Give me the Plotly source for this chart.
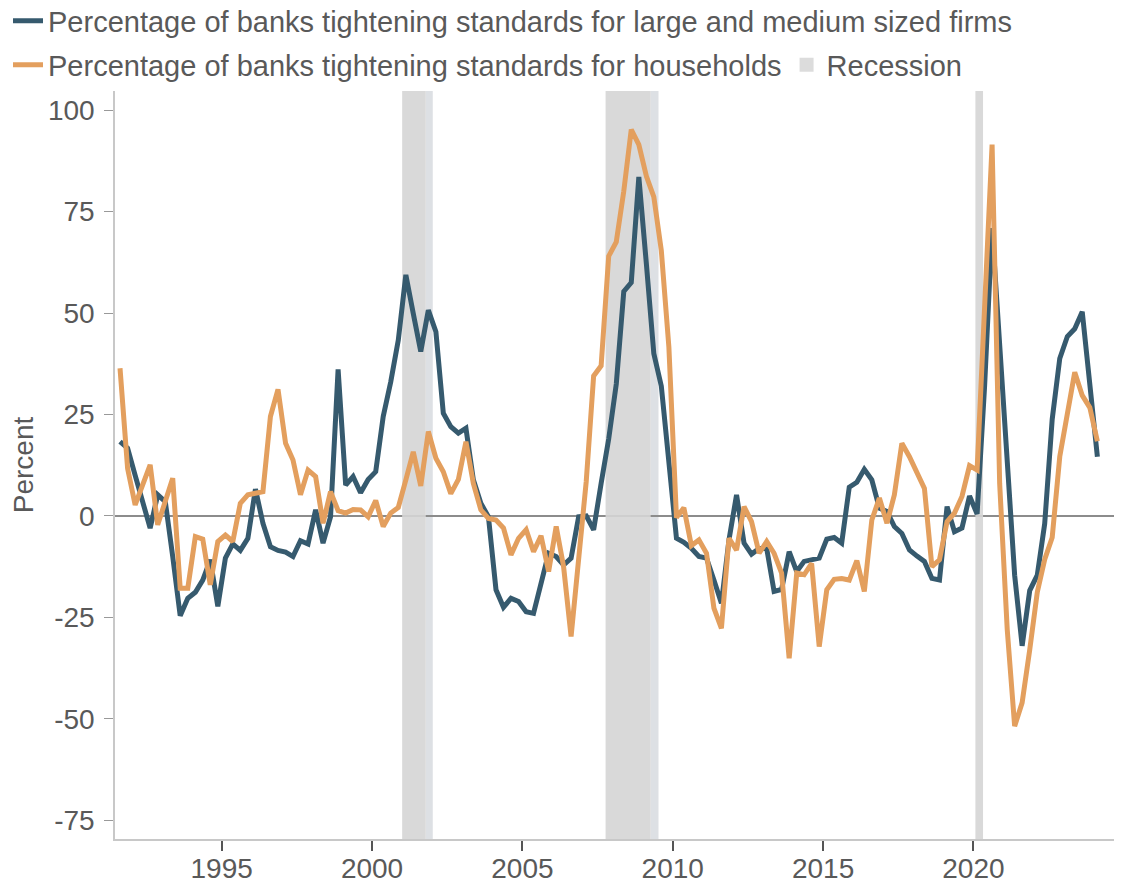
import pandas as pd
import plotly.graph_objects as go

# ── Data (quarterly, 1991Q3 – 2024Q1) ──────────────────────────────────────
START_Q = "1991Q3"
END_Q = "2024Q1"

firms = [
    18.3, 16.7, 10.0, 3.5, -3.0, 5.2, 3.5, -10.0, -24.6, -20.3,
    -18.8, -15.8, -10.8, -22.3, -10.4, -6.9, -8.5, -5.5, 6.6, -1.8,
    -7.6, -8.5, -8.9, -10.0, -6.1, -6.9, 1.5, -6.7, -0.2, 36.1,
    7.6, 9.7, 5.7, 9.0, 10.9, 24.5, 33.0, 43.3, 59.4, 49.9,
    40.5, 50.7, 45.4, 25.3, 22.0, 20.4, 21.6, 8.9, 3.1, -0.2,
    -18.2, -22.5, -20.3, -21.1, -23.6, -24.0, -16.6, -9.2, -10.0, -12.1,
    -10.4, -0.2, 0.0, -3.4, 8.0, 19.0, 32.5, 55.3, 57.5, 83.5,
    62.0, 40.0, 32.0, 14.0, -5.5, -6.5, -8.0, -10.0, -10.4, -15.8,
    -21.5, -5.9, 5.2, -6.7, -9.4, -8.0, -8.0, -18.6, -18.1, -8.8,
    -13.7, -11.2, -10.8, -10.4, -5.7, -5.3, -6.7, 7.1, 8.3, 11.5,
    8.9, 1.9, 1.1, -2.6, -4.3, -8.4, -9.9, -11.2, -15.4, -15.8,
    2.3, -3.9, -3.0, 4.9, 0.5, 32.0, 70.9, 42.7, 10.7, -14.6,
    -32.0, -18.4, -14.6, -1.9, 23.8, 38.8, 44.2, 46.1, 50.3, 33.0,
    14.6,
]

households = [
    36.4, 11.7, 2.7, 7.6, 12.6, -2.2, 3.9, 9.3, -17.8, -17.8,
    -5.1, -5.7, -17.0, -6.3, -4.7, -6.3, 3.1, 5.2, 5.6, 6.0,
    24.5, 31.2, 17.9, 13.8, 5.2, 11.3, 9.7, -1.8, 6.0, 1.3,
    0.7, 1.6, 1.5, -0.2, 3.8, -2.6, 0.7, 2.1, 8.9, 15.8,
    7.4, 20.8, 14.2, 10.9, 5.5, 9.0, 18.3, 8.0, 1.5, -0.6,
    -1.0, -3.0, -9.6, -5.5, -3.4, -8.8, -4.9, -13.7, -2.6, -12.5,
    -29.7, -9.0, 8.5, 34.5, 37.0, 64.0, 67.5, 80.0, 95.2, 91.5,
    83.7, 78.6, 65.4, 41.6, -0.4, 2.0, -7.3, -5.9, -9.2, -22.7,
    -27.7, -5.5, -8.4, 2.3, -1.4, -9.2, -6.3, -9.2, -14.1, -35.1,
    -14.1, -14.5, -11.7, -32.2, -18.2, -15.6, -15.4, -15.8, -11.0, -18.6,
    -1.0, 4.4, -1.8, 5.2, 17.9, 14.6, 10.9, 6.8, -12.5, -10.8,
    -1.4, 0.7, 4.8, 12.4, 11.3, 50.0, 91.5, 8.0, -28.0, -51.8,
    -46.0, -33.0, -18.8, -10.7, -5.3, 14.6, 25.2, 35.4, 29.7, 26.7,
    18.4,
]

# recession bands: start, end of grey part, end of band
recession_start = ["2001-01-01", "2007-10-08", "2020-01-25"]
recession_mid = ["2001-10-15", "2009-04-08", "2020-04-27"]
recession_end = ["2002-01-08", "2009-07-12", "2020-04-27"]

y_ticks = [-75, -50, -25, 0, 25, 50, 75, 100]
y_tick_labels = ["-75", "-50", "-25", "0", "25", "50", "75", "100"]
x_ticks = ["1995-01-01", "2000-01-01", "2005-01-01", "2010-01-01", "2015-01-01", "2020-01-01"]
x_tick_labels = ["1995", "2000", "2005", "2010", "2015", "2020"]

# ── Style ──────────────────────────────────────────────────────────────────
DARK = "#365A6E"
ORANGE = "#E39F5E"
BAND = "#D5D5D5"
BAND_EDGE = "#DDE0E4"
TEXT = "#595959"
FONT = "Liberation Sans, Arial, sans-serif"
X_RANGE = ["1991-06-15", "2024-12-10"]

dates = pd.period_range(START_Q, END_Q, freq="Q").to_timestamp(how="start") + pd.Timedelta(days=45)

fig = go.Figure()
fig.add_trace(go.Scatter(
    x=dates, y=firms, mode="lines",
    name="Percentage of banks tightening standards for large and medium sized firms",
    line=dict(color=DARK, width=5), legend="legend",
))
fig.add_trace(go.Scatter(
    x=dates, y=households, mode="lines",
    name="Percentage of banks tightening standards for households",
    line=dict(color=ORANGE, width=5), legend="legend2",
))
# legend-only entry for the recession bands
fig.add_trace(go.Scatter(
    x=[None], y=[None], mode="markers", name="Recession",
    marker=dict(symbol="square", size=14, color="#DCDCDC"), legend="legend2",
))

# shapes on the same layer draw in order: band edges, zero line, grey bands
for m, x1 in zip(recession_mid, recession_end):
    fig.add_shape(type="rect", xref="x", yref="paper", x0=m, x1=x1, y0=0, y1=1,
                  fillcolor=BAND_EDGE, line_width=0, layer="below")
fig.add_shape(type="line", xref="paper", yref="y", x0=0, x1=1, y0=0, y1=0,
              line=dict(color="#8C8C8C", width=2), layer="below")
for x0, m in zip(recession_start, recession_mid):
    fig.add_shape(type="rect", xref="x", yref="paper", x0=x0, x1=m, y0=0, y1=1,
                  fillcolor=BAND, opacity=0.9, line_width=0, layer="below")

legend_style = dict(
    orientation="h", xref="container", yref="container",
    x=0, xanchor="left", yanchor="middle",
    font=dict(size=29, color=TEXT), itemwidth=30,
    bgcolor="rgba(0,0,0,0)",
)

# the page adds an 8px body margin, so the figure is laid out 8px up/left
fig.update_layout(
    width=1122, height=883,
    paper_bgcolor="white", plot_bgcolor="white",
    font=dict(family=FONT, color=TEXT, size=28),
    margin=dict(l=107, r=8, t=83, b=52, autoexpand=False),
    showlegend=True,
    legend=dict(legend_style, y=1 - 13 / 883),
    legend2=dict(legend_style, y=1 - 57 / 883),
    xaxis=dict(
        type="date", range=X_RANGE,
        tickmode="array", tickvals=x_ticks, ticktext=x_tick_labels,
        ticks="outside", ticklen=10, tickwidth=2, tickcolor="#555555",
        ticklabelstandoff=-6,
        showline=True, linecolor="#C8C8C8", linewidth=1.5,
        showgrid=False, zeroline=False, automargin=False,
        tickfont=dict(size=28, color=TEXT),
    ),
    yaxis=dict(
        range=[-79.6, 104.7],
        tickmode="array", tickvals=y_ticks, ticktext=y_tick_labels,
        ticks="outside", ticklen=9, tickwidth=1, tickcolor="#999999",
        ticklabelstandoff=4,
        showline=True, linecolor="#C8C8C8", linewidth=1.5,
        showgrid=False, zeroline=False, automargin=False,
        title=dict(text="Percent", font=dict(size=28, color=TEXT), standoff=6),
        tickfont=dict(size=28, color=TEXT),
    ),
)

fig.write_html("out.html")
